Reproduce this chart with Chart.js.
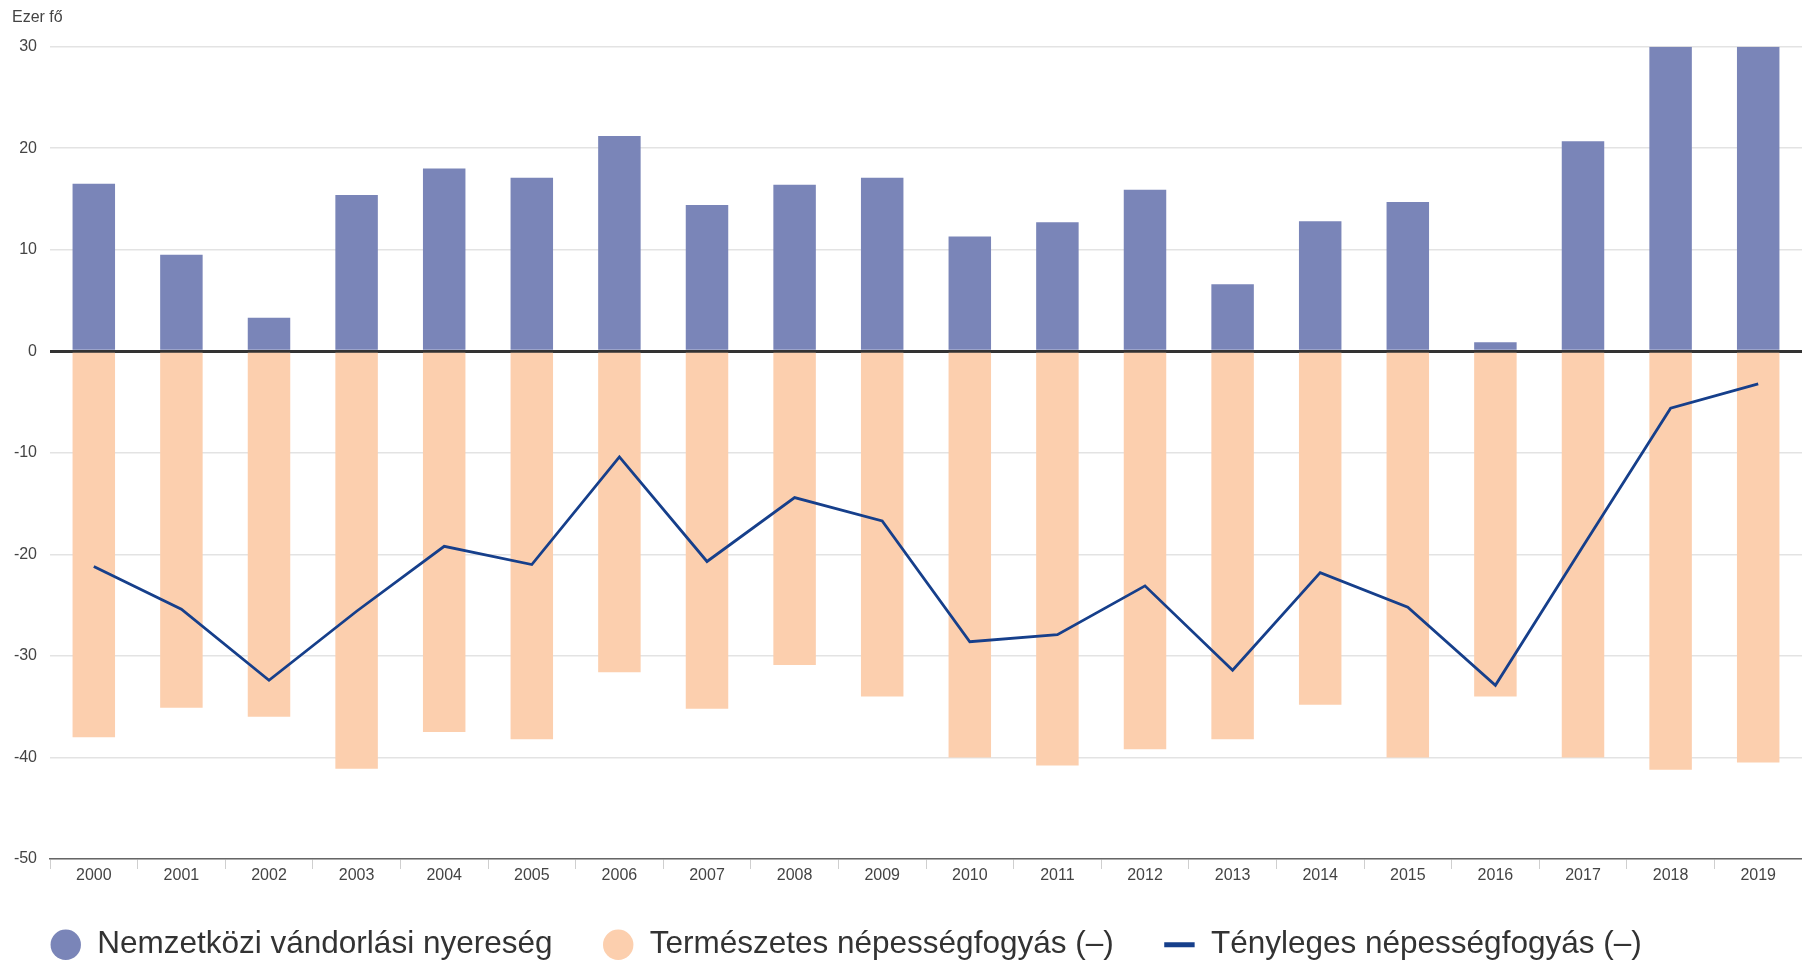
<html>
<head>
  <script src="https://cdn.jsdelivr.net/npm/chart.js@4.4.0/dist/chart.umd.min.js"></script>
  <style>body{margin:0;background:#fff}</style>
</head>
<body>
<canvas id="nf" width="1802" height="962"></canvas>
<script>
  // ezer fő
  var evek = ['2000','2001','2002','2003','2004','2005','2006','2007','2008','2009',
              '2010','2011','2012','2013','2014','2015','2016','2017','2018','2019'];
  var vandorlas = [16.5, 9.5, 3.3, 15.4, 18.0, 17.1, 21.2, 14.4, 16.4, 17.1,
                   11.3, 12.7, 15.9, 6.6, 12.8, 14.7, 0.9, 20.7, 30, 30];
  var termeszetes = [-38.0, -35.1, -36.0, -41.1, -37.5, -38.2, -31.6, -35.2, -30.9, -34.0,
                     -40.0, -40.8, -39.2, -38.2, -34.8, -40.0, -34.0, -40.0, -41.2, -40.5];
  var tenyleges = [-21.2, -25.4, -32.4, -25.6, -19.2, -21.0, -10.4, -20.7, -14.4, -16.7,
                   -28.6, -27.9, -23.1, -31.4, -21.8, -25.2, -32.9, -19.2, -5.6, -3.2];
  var cimkek = ['Nemzetközi vándorlási nyereség', 'Természetes népességfogyás (–)', 'Tényleges népességfogyás (–)'];

  eb = s => document.getElementById(s);
  Chart.defaults.font.family = "'Liberation Sans', Arial, sans-serif";
  Chart.defaults.color = '#444';

  // a cím kicsit beljebb, a jelmagyarázat kicsit feljebb
  var igazit = {
    id: 'igazit',
    afterLayout: ch => {
      ch.titleBlock.left += 12;
      ch.legend.top -= 10;
    }
  };

  var nf = new Chart(eb('nf'), {
    type: 'bar',
    data: {
      labels: evek,
      datasets: [{
        label: cimkek[0],
        data: vandorlas,
        backgroundColor: '#7a85b8',
        grouped: false,
        categoryPercentage: 1,
        barPercentage: 0.485
      }, {
        label: cimkek[1],
        data: termeszetes,
        backgroundColor: '#fccfae',
        grouped: false,
        categoryPercentage: 1,
        barPercentage: 0.485
      }, {
        type: 'line',
        label: cimkek[2],
        data: tenyleges,
        borderColor: '#163f8b',
        backgroundColor: '#163f8b',
        borderWidth: 2.8,
        pointRadius: 0,
        pointStyle: 'line',
        tension: 0,
        order: -1
      }]
    },
    plugins: [igazit],
    options: {
      responsive: false,
      animation: false,
      layout: { padding: { left: 0, right: 0, top: 0, bottom: -18.5 } },
      plugins: {
        tooltip: { enabled: false },
        title: {
          display: true,
          text: 'Ezer fő',
          align: 'start',
          color: '#444',
          font: { size: 16, weight: 'normal' },
          padding: { top: 8, bottom: 19.5 }
        },
        legend: {
          position: 'bottom',
          align: 'start',
          labels: {
            usePointStyle: true,
            boxWidth: 31.5,
            boxHeight: 21.5,
            padding: 50,
            color: '#333',
            font: { size: 31.5 },
            sort: (a, b) => a.datasetIndex - b.datasetIndex,
            generateLabels: ch => {
              var it = Chart.defaults.plugins.legend.labels.generateLabels(ch);
              it.forEach(i => { i.lineWidth = i.datasetIndex === 2 ? 5 : 0; });
              return it;
            }
          }
        }
      },
      scales: {
        x: {
          afterFit: s => { s.height = 30; },
          grid: { offset: true, drawOnChartArea: false, tickLength: 10, color: '#cfcfcf' },
          border: { display: true, color: '#666', width: 1.5 },
          ticks: { padding: -3, color: '#444', font: { size: 16 } }
        },
        y: {
          min: -50,
          max: 30,
          afterFit: s => { s.width = 50; },
          ticks: { stepSize: 10, padding: 13, color: '#444', font: { size: 16 } },
          border: { display: false },
          grid: {
            drawTicks: false,
            color: c => c.tick.value === 0 ? '#333' : '#e3e3e3',
            lineWidth: c => c.tick.value === 0 ? 3 : 1.5
          }
        }
      }
    }
  });
</script>
</body>
</html>
